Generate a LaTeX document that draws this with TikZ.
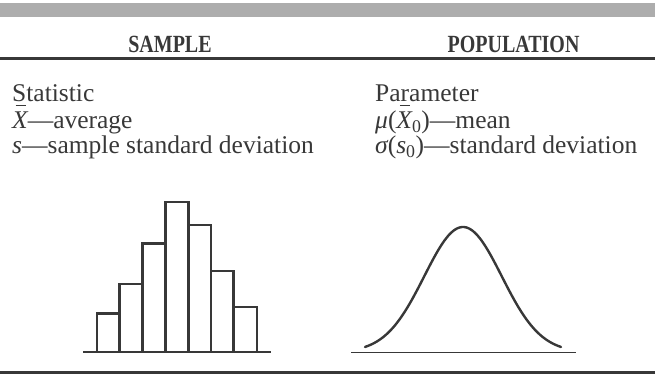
\documentclass[tikz,border=0pt]{standalone}
\usepackage{fontspec}
\setmainfont{Liberation Serif}
\definecolor{ink}{gray}{0.22}
\definecolor{band}{gray}{0.68}
\newcommand{\headtxt}[1]{\scalebox{0.81}[1]{\fontsize{24.7}{26}\selectfont\bfseries #1}}
\newcommand{\xbarit}{\makebox[0pt][l]{\hspace{3.5pt}\rule[22.5pt]{10pt}{1.2pt}}{\itshape X}}
\begin{document}
\begin{tikzpicture}[x=1pt,y=-1pt,
  head/.style={text=ink, inner sep=0pt},
  body/.style={font=\fontsize{25.5}{27}\selectfont, text=ink, inner sep=0pt, anchor=base west},
  rulex/.style={draw=ink, line width=2.6pt},
  bar/.style={draw=ink, line width=2.4pt, line join=miter},
  axis/.style={draw=ink, line width=1.4pt},
  bell/.style={draw=ink, line width=2.4pt, line cap=round}]
\useasboundingbox (0,0) rectangle (655,374);
% top gray band
\fill[band] (0,3) rectangle (655,17);
% headers
\node[head] (hs) at (170,44.4) {\headtxt{SAMPLE}};
\node[head] (hp) at (513.5,44.4) {\headtxt{POPULATION}};
\draw[rulex] (0,58.5) -- (655,58.5);
% left texts
\node[body] (l1) at (12,101.7) {Statistic};
\node[body] (l2) at (12,128.3) {\xbarit---average};
\node[body] (l3) at (12,153.3) {{\itshape s}---sample standard deviation};
% right texts
\node[body] (r1) at (375,101.7) {Parameter};
\node[body] (r2) at (375,128.3) {{\itshape μ}(\xbarit\textsubscript{0})---mean};
\node[body] (r3) at (375,153.3) {{\itshape σ}({\itshape s}\textsubscript{0})---standard deviation};
% histogram
\draw[axis] (83,352) -- (271,352);
\foreach \a/\b/\t in {96.7/119.3/313.3, 119.3/142.3/284, 142.3/165.3/243.3, 165.3/188.3/201.7, 188.3/211/225, 211/233.3/270.7, 233.3/256.7/306.7}
  \draw[bar] (\a,352) -- (\a,\t) -- (\b,\t) -- (\b,352);
% bell curve
\draw[axis] (351,352.7) -- (576,352.7);
\draw[bell] plot[smooth, samples=90, domain=365:561] (\x,{352-125*exp(-((\x-463)*(\x-463))/2996)});
% bottom rule
\draw[draw=ink, line width=3pt] (0,372.5) -- (655,372.5);
\end{tikzpicture}
\end{document}
